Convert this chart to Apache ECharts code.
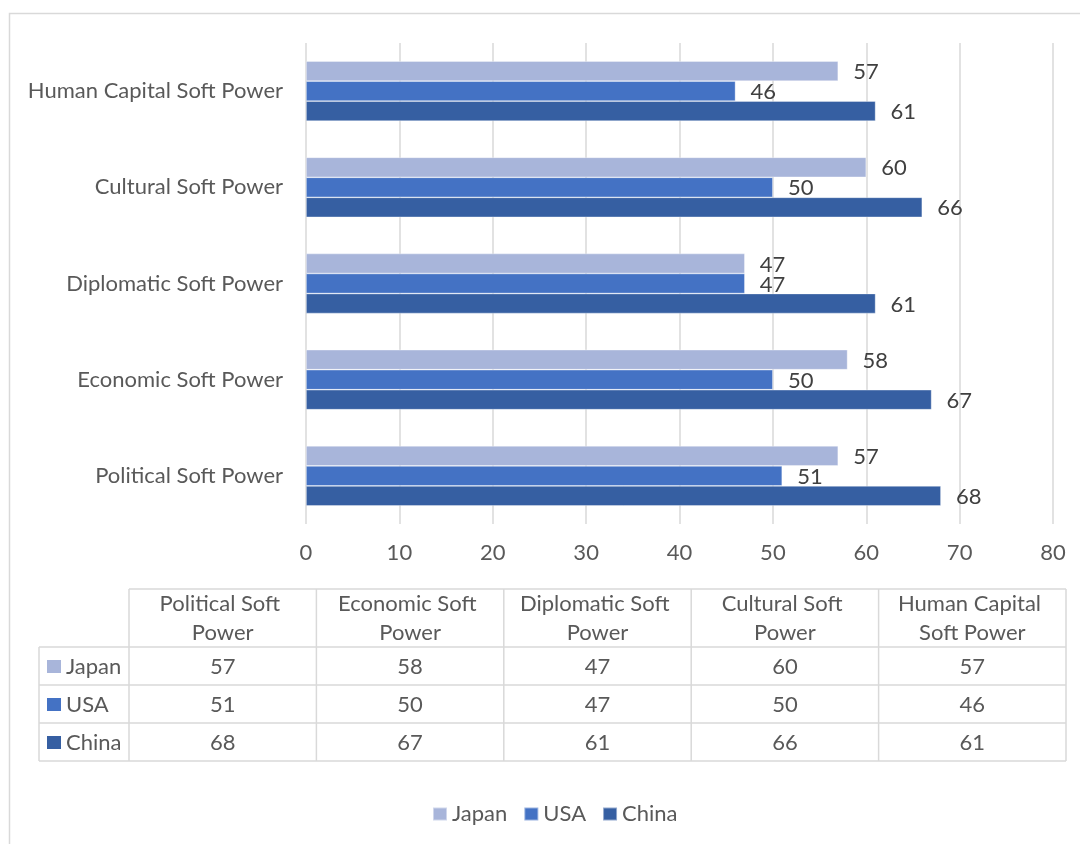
<!DOCTYPE html>
<html><head><meta charset="utf-8">
<script src="https://cdn.jsdelivr.net/npm/echarts@6/dist/echarts.min.js"></script>
<style>html,body{margin:0;padding:0;background:#fff}#c{width:1080px;height:844px}</style>
</head><body><div id="c"></div>
<script>
// ---- data ----
const categories = ['Political Soft Power', 'Economic Soft Power', 'Diplomatic Soft Power', 'Cultural Soft Power', 'Human Capital Soft Power'];
const seriesNames = ['Japan', 'USA', 'China'];
const japan = [57, 58, 47, 60, 57];
const usa = [51, 50, 47, 50, 46];
const china = [68, 67, 61, 66, 61];
const axisMin = 0, axisMax = 80, axisStep = 10;

// ---- styling ----
const FONT = 'Lato';
const FS = 22;
const TXT = '#595959';
const LINE = '#D9D9D9';
const colors = ['#A8B5DA', '#4472C4', '#365FA2'];
const rows = [japan, usa, china];

const chart = echarts.init(document.getElementById('c'), null, {renderer: 'canvas'});

// data table layout
const tbl = {left: 39, keyRight: 129, right: 1066, top: 589, headBottom: 647, rowH: 38};
const colW = (tbl.right - tbl.keyRight) / categories.length;
const tblBottom = tbl.headBottom + tbl.rowH * rows.length;
const g = [];
g.push({type: 'rect', silent: true, z: -10, shape: {x: 9.5, y: 13.5, width: 1200, height: 1000},
  style: {fill: 'transparent', stroke: LINE, lineWidth: 1.5}});
function hline(x1, x2, y) {
  g.push({type: 'line', silent: true, shape: {x1: x1, y1: y, x2: x2, y2: y}, style: {stroke: LINE, lineWidth: 1.5}});
}
function vline(x, y1, y2) {
  g.push({type: 'line', silent: true, shape: {x1: x, y1: y1, x2: x, y2: y2}, style: {stroke: LINE, lineWidth: 1.5}});
}
hline(tbl.keyRight, tbl.right, tbl.top);
for (let k = 0; k <= rows.length; k++) hline(tbl.left, tbl.right, tbl.headBottom + k * tbl.rowH);
vline(tbl.left, tbl.headBottom, tblBottom);
for (let j = 0; j <= categories.length; j++) vline(tbl.keyRight + j * colW, tbl.top, tblBottom);
categories.forEach((c, j) => {
  g.push({type: 'text', silent: true, x: tbl.keyRight + colW * (j + 0.5), y: (tbl.top + tbl.headBottom) / 2,
    style: {text: c, width: colW - 16, overflow: 'break', fill: TXT, font: FS + 'px ' + FONT, lineHeight: 29,
      align: 'center', verticalAlign: 'middle'}});
});
rows.forEach((r, i) => {
  const cy = tbl.headBottom + tbl.rowH * (i + 0.5) + 1;
  g.push({type: 'rect', silent: true, shape: {x: 47, y: cy - 7, width: 14, height: 13}, style: {fill: colors[i]}});
  g.push({type: 'text', silent: true, x: 66, y: cy,
    style: {text: seriesNames[i], fill: TXT, font: FS + 'px ' + FONT, align: 'left', verticalAlign: 'middle'}});
  r.forEach((v, j) => {
    g.push({type: 'text', silent: true, x: tbl.keyRight + colW * (j + 0.5), y: cy,
      style: {text: String(v), fill: TXT, font: FS + 'px ' + FONT, align: 'center', verticalAlign: 'middle'}});
  });
});

chart.setOption({
  animation: false,
  backgroundColor: '#fff',
  textStyle: {fontFamily: FONT},
  grid: {left: 306, right: 27, top: 43, bottom: 320, containLabel: false},
  xAxis: {
    type: 'value', min: axisMin, max: axisMax, interval: axisStep,
    axisLine: {show: false}, axisTick: {show: false},
    splitLine: {show: true, lineStyle: {color: LINE, width: 1.5}},
    axisLabel: {color: TXT, fontSize: FS, fontFamily: FONT, margin: 18}
  },
  yAxis: {
    type: 'category', data: categories,
    axisLine: {show: false}, axisTick: {show: false},
    axisLabel: {color: TXT, fontSize: FS, fontFamily: FONT, margin: 23}
  },
  legend: {
    data: seriesNames, left: 427, top: 798, icon: 'rect', itemWidth: 14, itemHeight: 13, itemGap: 16,
    textStyle: {color: TXT, fontSize: FS, fontFamily: FONT}
  },
  series: seriesNames.map((n, i) => ({
    name: n, type: 'bar', data: rows[i],
    barGap: '0%', barCategoryGap: '37.6%',
    itemStyle: {color: colors[i], borderColor: 'rgba(255,255,255,0.45)', borderWidth: 0.75},
    label: {show: true, position: 'right', distance: 15, offset: [0, 1], color: '#404040', fontSize: FS, fontFamily: FONT}
  })),
  graphic: g
});
</script></body></html>
